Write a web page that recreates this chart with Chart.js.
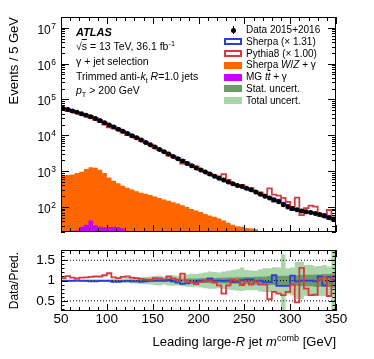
<!DOCTYPE html>
<html lang="en">
<head>
  <meta charset="UTF-8">
  <title>Leading large-R jet mass</title>
  <script src="https://cdn.jsdelivr.net/npm/chart.js"></script>
  <style>
    body {
      margin: 0;
      background: #fff;
      color: #000;
      font-family: "Liberation Sans", Arial, Helvetica, sans-serif;
    }
    #wrap { position: relative; width: 374px; height: 359px; overflow: hidden; }
    canvas { position: absolute; left: 0; }
    #main { top: 0; }
    #ratio { top: 236px; }
    .txt { position: absolute; left: 76px; white-space: nowrap; font-size: 10.5px; line-height: 12px; }
    .leg { position: absolute; left: 246px; white-space: nowrap; font-size: 10px; line-height: 12px; }
    .box { position: absolute; left: 224px; width: 18px; height: 7px; box-sizing: border-box; }
    sub, sup { font-size: 70%; line-height: 0; }
    .ol { text-decoration: overline; }
    #xtitle { position: absolute; right: 38px; top: 334px; font-size: 13px; line-height: 16px; white-space: nowrap; }
  </style>
</head>
<body>
<div id="wrap">
  <canvas id="main" width="374" height="236"></canvas>
  <canvas id="ratio" width="374" height="123"></canvas>

  <div class="txt" style="top:26px;font-weight:bold;font-style:italic;font-size:11px">ATLAS</div>
  <div class="txt" style="top:40px">√<span class="ol">s</span> = 13 TeV, 36.1 fb<sup>-1</sup></div>
  <div class="txt" style="top:55px">γ + jet selection</div>
  <div class="txt" style="top:70px">Trimmed anti-<i>k</i><sub>t</sub> <i>R</i>=1.0 jets</div>
  <div class="txt" style="top:84px"><i>p</i><sub>T</sub> &gt; 200 GeV</div>

  <div style="position:absolute;left:232.5px;top:26px;width:1px;height:8px;background:#000"></div>
  <div style="position:absolute;left:230.5px;top:27.5px;width:5px;height:5px;border-radius:50%;background:#000"></div>
  <div class="leg" style="top:24px">Data 2015+2016</div>
  <div class="box" style="top:38px;border:2px solid #2d3fd2"></div>
  <div class="leg" style="top:36px">Sherpa (× 1.31)</div>
  <div class="box" style="top:50px;border:2px solid #d8393c"></div>
  <div class="leg" style="top:48px">Pythia8 (× 1.00)</div>
  <div class="box" style="top:62px;background:#ff6600"></div>
  <div class="leg" style="top:59px">Sherpa <i>W</i>/<i>Z</i> + γ</div>
  <div class="box" style="top:74px;background:#c800ff"></div>
  <div class="leg" style="top:71px">MG <i>t<span class="ol">t</span></i> + γ</div>
  <div class="box" style="top:85px;background:#6b9b6b"></div>
  <div class="leg" style="top:83px">Stat. uncert.</div>
  <div class="box" style="top:97px;background:#aad6aa"></div>
  <div class="leg" style="top:95px">Total uncert.</div>

  <div id="xtitle">Leading large-<i>R</i> jet <i>m</i><sup>comb</sup> [GeV]</div>
</div>

<script>
  const FONT = '"Liberation Sans", Arial, Helvetica, sans-serif';
  Chart.defaults.font.family = FONT;
  Chart.defaults.color = "#000";

  // left edges of the 5 GeV bins
  const binEdges = [50, 55, 60, 65, 70, 75, 80, 85, 90, 95,
    100, 105, 110, 115, 120, 125, 130, 135, 140, 145,
    150, 155, 160, 165, 170, 175, 180, 185, 190, 195,
    200, 205, 210, 215, 220, 225, 230, 235, 240, 245,
    250, 255, 260, 265, 270, 275, 280, 285, 290, 295,
    300, 305, 310, 315, 320, 325, 330, 335, 340, 345];
  const xMax = 350;
  const xLabels = [50, 100, 150, 200, 250, 300, 350];
  const logLabelExps = [2, 3, 4, 5, 6, 7];
  const ratioLabels = [0.5, 1, 1.5];

  const dataCounts = [56000, 52500, 47900, 43600, 39800, 36300, 33100, 29500, 25700, 22400,
    19500, 17000, 14800, 12900, 11200, 9770, 8510, 7330, 6310, 5430,
    4680, 4030, 3470, 2990, 2570, 2210, 1905, 1640, 1410, 1230,
    1070, 944, 832, 724, 631, 562, 501, 447, 398, 370,
    330, 300, 262, 228, 200, 178, 160, 140, 115, 100,
    91, 84, 77, 74, 70, 66, 62, 56, 51, 46];

  const wzGamma = [760, 780, 800, 880, 960, 1150, 1280, 1250, 1100, 880,
    660, 540, 460, 390, 345, 305, 275, 250, 232, 215,
    195, 178, 162, 148, 135, 124, 112, 100, 88, 80,
    72, 64, 58, 53, 48, 42, 36, 32, 29, 28,
    26, 25, 24, 21, 17, 13, 11, 9, 7, 6,
    5, 4, 4, 3, 3, 3, 2, 2, 2, 2];

  const ttGamma = [14, 15, 17, 22, 28, 32, 42, 31, 28, 27,
    27, 28, 27, 25, 21, 18, 17, 19, 21, 16,
    15, 16, 21, 14, 12, 11, 10, 9, 8, 7,
    6, 6, 5, 5, 4, 4, 3, 3, 3, 3,
    2, 2, 2, 2, 2, 2, 1, 1, 1, 1,
    1, 1, 1, 1, 1, 1, 1, 1, 1, 1];

  // Data / Pred.
  const ratioPythia = [1.06, 1.11, 1.07, 1.05, 1.07, 1.08, 1.09, 1.10, 1.10, 1.13,
    1.18, 1.08, 1.06, 1.09, 1.10, 1.07, 1.06, 1.04, 1.03, 1.02,
    1.06, 1.05, 1.03, 1.10, 1.05, 1.02, 1.17, 1.00, 0.96, 0.91,
    0.96, 1.00, 1.00, 0.95, 0.88, 0.68, 0.88, 1.02, 1.00, 0.89,
    0.98, 0.90, 0.98, 0.90, 0.90, 0.54, 0.72, 0.68, 0.64, 0.72,
    0.90, 0.46, 1.31, 0.80, 0.64, 0.65, 1.02, 1.08, 0.62, 1.10];

  const ratioSherpa = [0.99, 0.99, 0.99, 1.00, 0.99, 0.99, 0.98, 0.98, 0.99, 0.99,
    0.99, 0.97, 0.97, 0.98, 0.99, 0.98, 0.98, 0.97, 0.98, 0.99,
    1.00, 1.00, 1.00, 1.02, 0.98, 0.95, 0.92, 0.93, 0.95, 0.97,
    1.00, 1.00, 1.05, 1.00, 1.00, 0.99, 1.00, 0.97, 0.97, 1.01,
    1.03, 1.03, 0.98, 1.00, 0.96, 0.96, 1.13, 0.87, 0.87, 0.87,
    1.12, 0.98, 1.00, 1.00, 1.00, 0.98, 1.10, 0.88, 1.09, 1.02];

  const statErr = [0.008, 0.008, 0.008, 0.008, 0.008, 0.009, 0.009, 0.009, 0.01, 0.01,
    0.01, 0.01, 0.012, 0.014, 0.016, 0.018, 0.02, 0.022, 0.024, 0.026,
    0.03, 0.032, 0.034, 0.036, 0.04, 0.042, 0.045, 0.048, 0.05, 0.053,
    0.056, 0.06, 0.062, 0.065, 0.068, 0.07, 0.073, 0.076, 0.08, 0.083,
    0.086, 0.09, 0.095, 0.1, 0.1, 0.11, 0.11, 0.12, 0.12, 0.12,
    0.13, 0.13, 0.14, 0.14, 0.14, 0.15, 0.15, 0.16, 0.16, 0.18];

  const totHi = [1.03, 1.03, 1.03, 1.03, 1.03, 1.03, 1.03, 1.03, 1.03, 1.035,
    1.04, 1.04, 1.05, 1.05, 1.06, 1.07, 1.08, 1.08, 1.09, 1.10,
    1.11, 1.12, 1.10, 1.12, 1.13, 1.12, 1.14, 1.15, 1.17, 1.16,
    1.18, 1.20, 1.22, 1.21, 1.20, 1.22, 1.24, 1.26, 1.28, 1.32,
    1.26, 1.25, 1.24, 1.28, 1.30, 1.30, 1.33, 1.32, 1.65, 1.30,
    1.32, 1.46, 1.46, 1.38, 1.38, 1.35, 1.36, 1.38, 1.34, 1.90];

  const totLo = [0.97, 0.97, 0.97, 0.97, 0.97, 0.97, 0.97, 0.97, 0.97, 0.965,
    0.96, 0.96, 0.95, 0.95, 0.94, 0.93, 0.92, 0.92, 0.91, 0.90,
    0.89, 0.88, 0.90, 0.88, 0.87, 0.88, 0.86, 0.85, 0.84, 0.85,
    0.83, 0.81, 0.80, 0.80, 0.81, 0.79, 0.78, 0.76, 0.75, 0.74,
    0.76, 0.76, 0.76, 0.73, 0.72, 0.71, 0.70, 0.70, 0.15, 0.66,
    0.63, 0.54, 0.54, 0.62, 0.62, 0.63, 0.62, 0.62, 0.62, 0.10];

  const RED = "#d8393c", BLUE = "#2d3fd2", ORANGE = "#ff6600", MAGENTA = "#c800ff";
  const DKGREEN = "#6b9b6b", LTGREEN = "#aad6aa";
  const NONE = "rgba(0,0,0,0)";

  // histogram as stepped line: one point per left edge, last value repeated at the right edge
  function steps(values) {
    const pts = binEdges.map((e, i) => ({ x: e, y: values[i] }));
    pts.push({ x: xMax, y: values[values.length - 1] });
    return pts;
  }

  const binCenters = binEdges.map(e => e + 2.5);
  const sherpaPred = dataCounts.map((d, i) => d / ratioSherpa[i]);
  const pythiaPred = dataCounts.map((d, i) => d / ratioPythia[i]);
  const statHi = statErr.map(e => 1 + e);
  const statLo = statErr.map(e => 1 - e);

  // inward ticks on all four sides plus the frame
  function tickFrame(xTicks, yTicks) {
    return {
      id: "tickFrame",
      afterDatasetsDraw(chart) {
        const ctx = chart.ctx, a = chart.chartArea;
        const xs = chart.scales.x, ys = chart.scales.y;
        ctx.save();
        ctx.strokeStyle = "#000";
        ctx.lineWidth = 1;
        ctx.beginPath();
        xTicks.forEach(t => {
          const px = Math.round(xs.getPixelForValue(t.v)) + 0.5;
          ctx.moveTo(px, a.bottom); ctx.lineTo(px, a.bottom - t.len);
          ctx.moveTo(px, a.top); ctx.lineTo(px, a.top + t.len);
        });
        yTicks.forEach(t => {
          const py = Math.round(ys.getPixelForValue(t.v)) + 0.5;
          ctx.moveTo(a.left, py); ctx.lineTo(a.left + t.len, py);
          ctx.moveTo(a.right, py); ctx.lineTo(a.right - t.len, py);
        });
        ctx.stroke();
        ctx.strokeRect(Math.round(a.left) + 0.5, Math.round(a.top) + 0.5,
          Math.round(a.right - a.left) - 1, Math.round(a.bottom - a.top) - 1);
        ctx.restore();
      }
    };
  }

  // 10^n labels with a raised exponent
  const logLabels = {
    id: "logLabels",
    afterDraw(chart) {
      const ctx = chart.ctx, ys = chart.scales.y;
      ctx.save();
      ctx.fillStyle = "#000";
      ctx.textAlign = "right";
      ctx.textBaseline = "alphabetic";
      logLabelExps.forEach(n => {
        const py = ys.getPixelForValue(Math.pow(10, n));
        ctx.font = "8.5px " + FONT;
        const w = ctx.measureText(String(n)).width;
        ctx.fillText(String(n), 56, py + 1);
        ctx.font = "12px " + FONT;
        ctx.fillText("10", 56 - w - 0.5, py + 6);
      });
      ctx.restore();
    }
  };

  const xTicks = [];
  for (let v = 50; v <= 350; v += 10) xTicks.push({ v: v, len: v % 50 === 0 ? 7 : 4 });
  const logTicks = [];
  for (let n = 1; n <= 7; n++) {
    for (let k = 1; k <= 9; k++) {
      const v = k * Math.pow(10, n);
      if (v >= 20 && v <= 2e7) logTicks.push({ v: v, len: k === 1 ? 8 : 4 });
    }
  }
  const ratioTicks = [];
  for (let k = 3; k <= 17; k++) ratioTicks.push({ v: k / 10, len: k % 5 === 0 ? 7 : 3.5 });

  const histLine = (values, color, width) => ({
    data: steps(values), borderColor: color, borderWidth: width,
    stepped: true, pointRadius: 0, fill: false
  });
  const filledHist = (values, color, fill) => ({
    data: steps(values), borderColor: NONE, borderWidth: 0, backgroundColor: color,
    stepped: true, pointRadius: 0, fill: fill
  });

  new Chart(document.getElementById("main"), {
    type: "line",
    data: {
      datasets: [
        {
          label: "Data 2015+2016",
          data: binCenters.map((c, i) => ({ x: c, y: dataCounts[i] })),
          showLine: false, pointRadius: 2.5, pointBorderWidth: 0,
          pointBackgroundColor: "#000", borderColor: "#000"
        },
        Object.assign(histLine(pythiaPred, RED, 1.8), { label: "Pythia8" }),
        Object.assign(histLine(sherpaPred, BLUE, 1.8), { label: "Sherpa" }),
        Object.assign(filledHist(ttGamma, MAGENTA, "start"), { label: "MG ttγ" }),
        Object.assign(filledHist(wzGamma, ORANGE, "start"), { label: "Sherpa W/Z+γ" })
      ]
    },
    options: {
      responsive: false,
      animation: false,
      layout: { padding: { left: 0, right: 38, top: 17, bottom: 1 } },
      plugins: { legend: { display: false }, tooltip: { enabled: false } },
      scales: {
        x: { type: "linear", min: 50, max: xMax, display: false },
        y: {
          type: "logarithmic", min: 20, max: 2e7,
          grid: { display: false }, border: { display: false },
          ticks: { display: false },
          afterFit(s) { s.width = 61; },
          title: {
            display: true, text: "Events / 5 GeV", align: "end",
            font: { size: 13 }, padding: { top: 7, bottom: 0 }
          }
        }
      }
    },
    plugins: [tickFrame(xTicks, logTicks), logLabels]
  });

  new Chart(document.getElementById("ratio"), {
    type: "line",
    data: {
      datasets: [
        Object.assign(histLine(ratioPythia, RED, 1.8), { label: "Data/Pythia8" }),
        Object.assign(histLine(ratioSherpa, BLUE, 1.8), { label: "Data/Sherpa" }),
        ...ratioLabels.map(v => ({
          label: "ref " + v, data: [{ x: 50, y: v }, { x: xMax, y: v }],
          borderColor: "#000", borderWidth: 1, borderDash: [1, 2], pointRadius: 0, fill: false
        })),
        Object.assign(filledHist(statHi, DKGREEN, "+1"), { label: "Stat. uncert." }),
        Object.assign(filledHist(statLo, NONE, false), { label: "stat lo" }),
        Object.assign(filledHist(totHi, LTGREEN, "+1"), { label: "Total uncert." }),
        Object.assign(filledHist(totLo, NONE, false), { label: "tot lo" })
      ]
    },
    options: {
      responsive: false,
      animation: false,
      layout: { padding: { left: 0, right: 38, top: 7, bottom: 0 } },
      plugins: { legend: { display: false }, tooltip: { enabled: false } },
      scales: {
        x: {
          type: "linear", min: 50, max: xMax,
          grid: { display: false, drawTicks: false }, border: { display: false },
          afterBuildTicks(s) { s.ticks = xLabels.map(v => ({ value: v })); },
          ticks: { autoSkip: false, maxRotation: 0, padding: 0, font: { size: 13.5 } },
          afterFit(s) { s.height = 48; }
        },
        y: {
          min: 0.25, max: 1.75,
          grid: { display: false, drawTicks: false }, border: { display: false },
          afterBuildTicks(s) { s.ticks = ratioLabels.map(v => ({ value: v })); },
          ticks: { padding: 6, font: { size: 13.5 }, callback: v => String(v) },
          afterFit(s) { s.width = 61; },
          title: {
            display: true, text: "Data/Pred.", align: "center",
            font: { size: 12 }, padding: { top: 7, bottom: 0 }
          }
        }
      }
    },
    plugins: [tickFrame(xTicks, ratioTicks)]
  });
</script>
</body>
</html>
